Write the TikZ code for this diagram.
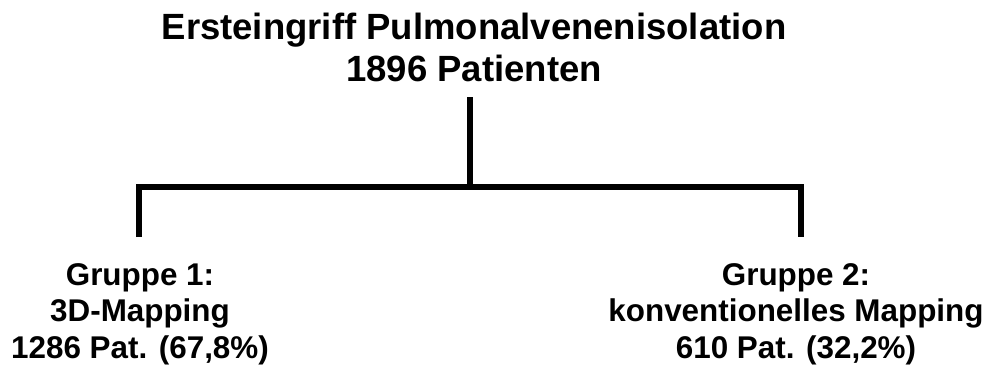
\documentclass[tikz,border=0pt]{standalone}
\usepackage{fontspec}
\setmainfont{Liberation Sans}
\begin{document}
\begin{tikzpicture}[x=1pt,y=1pt,
  titletext/.style={inner sep=0pt, align=center, anchor=base,
    font=\fontsize{36.5}{42}\selectfont\bfseries},
  grouptext/.style={inner sep=0pt, align=center, anchor=base,
    font=\fontsize{31.4}{36.5}\selectfont\bfseries},
  branch/.style={line width=5.5pt, line join=miter, line cap=butt}]
\useasboundingbox (0,0) rectangle (997,-370);
\node[titletext] (title) at (474,-81) {Ersteingriff Pulmonalvenenisolation\\1896 Patienten};
\node[grouptext] (g1) at (140,-358) {Gruppe 1:\\3D-Mapping\\1286 Pat. (67,8\%)};
\node[grouptext] (g2) at (796,-358) {Gruppe 2:\\konventionelles Mapping\\610 Pat. (32,2\%)};
\coordinate (top) at (470,-97);
\coordinate (hub) at (470,-187);
\coordinate (left) at (139,-237);
\coordinate (right) at (801,-237);
\draw[branch] (top) -- (hub);
\draw[branch] (left) |- (hub) -| (right);
\end{tikzpicture}
\end{document}
